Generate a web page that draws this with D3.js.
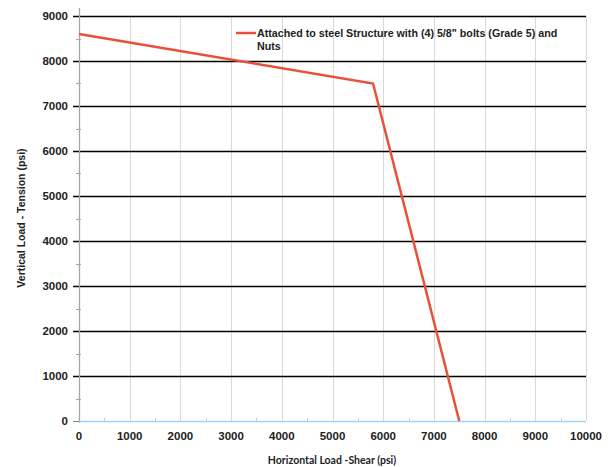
<!DOCTYPE html>
<html>
<head>
<meta charset="utf-8">
<script src="https://cdn.jsdelivr.net/npm/d3@7"></script>
<style>
  body { margin: 0; background: #fff; }
  text { font-family: "Liberation Sans", Arial, sans-serif; }
</style>
</head>
<body>
<svg width="613" height="467"></svg>
<script>
// data
const shearValues = [0, 5800, 7500];
const tensionValues = [8600, 7500, 0];
const seriesName = "Attached to steel Structure with (4) 5/8\" bolts (Grade 5) and";
const seriesName2 = "Nuts";
const xTicks = [0, 1000, 2000, 3000, 4000, 5000, 6000, 7000, 8000, 9000, 10000];
const yTicks = [0, 1000, 2000, 3000, 4000, 5000, 6000, 7000, 8000, 9000];
const xMinor = [500, 1500, 2500, 3500, 4500, 5500, 6500, 7500, 8500, 9500];
const yMinor = [500, 1500, 2500, 3500, 4500, 5500, 6500, 7500, 8500];

let svg = d3.select("svg");
const g = svg.append("g");

const x = d3.scaleLinear().domain([0, 10000]).range([79, 586]);
const y = d3.scaleLinear().domain([0, 9000]).range([421, 16]);
const px = v => Math.round(x(v)) + 0.5;
const py = v => Math.round(y(v)) + 0.5;

// vertical gridlines (light)
g.selectAll(".vgrid").data(xTicks.slice(1))
  .enter().append("line")
    .attr("x1", d => px(d)).attr("x2", d => px(d))
    .attr("y1", y(9000)).attr("y2", y(0))
    .attr("stroke", "#d9d9d9").attr("stroke-width", 1);

// horizontal gridlines (dark)
g.selectAll(".hgrid").data(yTicks.slice(1))
  .enter().append("line")
    .attr("x1", x(0) - 6).attr("x2", x(10000))
    .attr("y1", d => py(d)).attr("y2", d => py(d))
    .attr("stroke", "#000").attr("stroke-width", 1.4);

// y axis line + minor ticks
g.append("line")
  .attr("x1", px(0)).attr("x2", px(0))
  .attr("y1", y(9000) - 8).attr("y2", y(0) + 2)
  .attr("stroke", "#a6a6a6").attr("stroke-width", 1.3);
g.selectAll(".yminor").data(yMinor)
  .enter().append("line")
    .attr("x1", x(0) - 3).attr("x2", x(0) + 2)
    .attr("y1", d => py(d)).attr("y2", d => py(d))
    .attr("stroke", "#a6a6a6");
g.append("line")
  .attr("x1", x(0) - 6).attr("x2", x(0))
  .attr("y1", py(0)).attr("y2", py(0))
  .attr("stroke", "#888");

// x axis line (light blue) + minor ticks
g.append("line")
  .attr("x1", x(0)).attr("x2", x(10000))
  .attr("y1", py(0)).attr("y2", py(0))
  .attr("stroke", "#a9d1ee").attr("stroke-width", 1.3);
g.selectAll(".xminor").data(xMinor)
  .enter().append("line")
    .attr("x1", d => px(d)).attr("x2", d => px(d))
    .attr("y1", y(0) - 3).attr("y2", y(0))
    .attr("stroke", "#a9d1ee");

// tick labels
g.selectAll(".ylab").data(yTicks)
  .enter().append("text")
    .attr("x", 68).attr("y", d => y(d) + 4)
    .attr("text-anchor", "end")
    .attr("font-size", 11.5).attr("font-weight", "bold").attr("fill", "#222")
    .text(d => d);
g.selectAll(".xlab").data(xTicks)
  .enter().append("text")
    .attr("x", d => x(d)).attr("y", 440)
    .attr("text-anchor", "middle")
    .attr("font-size", 11.5).attr("font-weight", "bold").attr("fill", "#222")
    .text(d => d);

// axis titles
svg.append("text")
  .attr("x", 332).attr("y", 464)
  .attr("text-anchor", "middle")
  .attr("font-size", 10.5).attr("font-weight", "bold").attr("fill", "#222")
  .style("font-family", "Lato, sans-serif")
  .text("Horizontal Load -Shear (psi)");
svg.append("text")
  .attr("transform", "translate(25,218) rotate(-90)")
  .attr("text-anchor", "middle")
  .attr("font-size", 10.5).attr("font-weight", "bold").attr("fill", "#222")
  .text("Vertical Load - Tension (psi)");

// series line
const points = shearValues.map((v, i) => [v, tensionValues[i]]);
const line = d3.line().x(d => x(d[0])).y(d => y(d[1]));
g.append("path")
  .attr("d", line(points))
  .attr("fill", "none")
  .attr("stroke", "#e8503a").attr("stroke-width", 2.5);

// legend
g.append("line")
  .attr("x1", 236).attr("x2", 256).attr("y1", 33).attr("y2", 33)
  .attr("stroke", "#e8503a").attr("stroke-width", 2.5);
g.append("text")
  .attr("x", 257).attr("y", 37)
  .attr("font-size", 10.7).attr("font-weight", "bold").attr("fill", "#222")
  .text(seriesName);
g.append("text")
  .attr("x", 257).attr("y", 50)
  .attr("font-size", 10.7).attr("font-weight", "bold").attr("fill", "#222")
  .text(seriesName2);
</script>
</body>
</html>
